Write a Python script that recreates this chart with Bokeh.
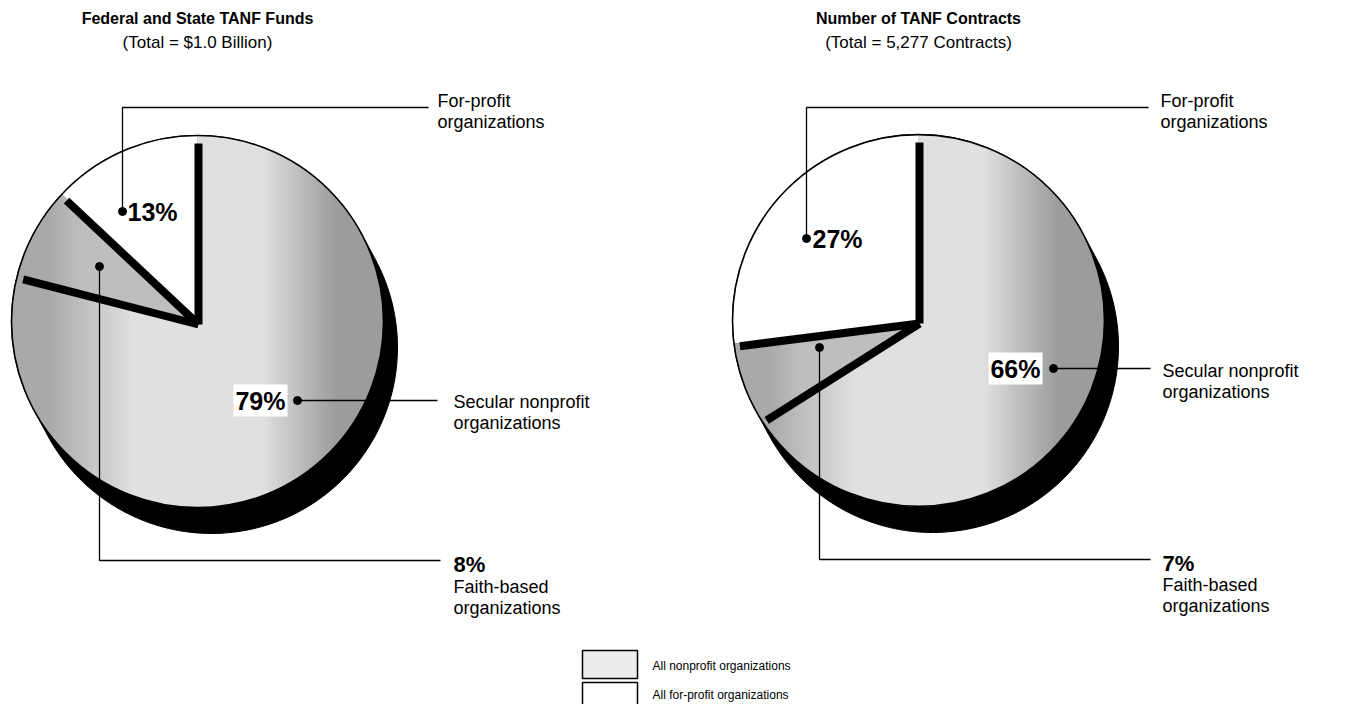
import numpy as np
from bokeh.plotting import figure
from bokeh.models import Range1d
from bokeh.core.properties import value
from bokeh.embed import file_html
from bokeh.resources import INLINE

# ---------------- data ----------------
slice_kind = ["secular", "faith", "forprofit"]   # secular nonprofit, faith-based, for-profit
funds_pct = [79, 8, 13]          # Federal and State TANF funds
contracts_pct = [66, 7, 27]      # Number of TANF contracts
chart_titles = ["Federal and State TANF Funds", "Number of TANF Contracts"]
chart_subtitles = ["(Total = $1.0 Billion)", "(Total = 5,277 Contracts)"]
legend_labels = ["All nonprofit organizations", "All for-profit organizations"]

# ---------------- layout ----------------
W, H = 1345, 704
FONT = value("Liberation Sans")
p = figure(width=W, height=H, x_range=Range1d(0, W), y_range=Range1d(-H, 0),
           x_axis_type=None, y_axis_type=None, toolbar_location=None,
           output_backend="svg", min_border=0, outline_line_color=None)
p.background_fill_color = "white"
p.border_fill_color = "white"

R = 186
SHADOW = (14, -26)
LIGHT = np.array([224, 224, 224])
DARK = np.array([156, 156, 156])


def clip_x(px, py, xlim, keep_greater):
    ox, oy = [], []
    n = len(px)
    for i in range(n):
        x0, y0 = px[i], py[i]
        x1, y1 = px[(i + 1) % n], py[(i + 1) % n]
        in0 = x0 >= xlim if keep_greater else x0 <= xlim
        in1 = x1 >= xlim if keep_greater else x1 <= xlim
        if in0:
            ox.append(x0); oy.append(y0)
        if in0 != in1:
            t = (xlim - x0) / (x1 - x0)
            ox.append(xlim); oy.append(y0 + t * (y1 - y0))
    return ox, oy


def shade(u, floor=0.0):
    if u >= 0:
        s = min(max((u - 0.35) / 0.4, 0), 1)
    else:
        s = 0.8 * min(max((-u - 0.35) / 0.45, 0), 1)
    s = max(s, floor)
    c = LIGHT + (DARK - LIGHT) * s
    return "#%02x%02x%02x" % tuple(int(v) for v in c)


def draw_pie(cx, cy, values):
    # cylinder-like shadow (hull of two discs)
    dx, dy = SHADOW
    psi = np.degrees(np.arctan2(dy, dx))
    t2 = np.radians(np.linspace(psi - 90, psi + 90, 120))
    t1 = np.radians(np.linspace(psi + 90, psi + 270, 120))
    sx = np.concatenate([cx + dx + R * np.cos(t2), cx + R * np.cos(t1)])
    sy = np.concatenate([cy + dy + R * np.sin(t2), cy + R * np.sin(t1)])
    p.patch(sx, sy, fill_color="black", line_color="black")

    cum = np.cumsum([0] + list(values))
    bounds = []
    xs_all, ys_all, cols = [], [], []
    for i, v in enumerate(values):
        a0 = 90 - 3.6 * cum[i]
        a1 = 90 - 3.6 * cum[i + 1]
        bounds.append(a1)
        t = np.radians(np.linspace(a0, a1, max(int(abs(a1 - a0)) + 2, 8)))
        px = [cx] + list(cx + R * np.cos(t))
        py = [cy] + list(cy + R * np.sin(t))
        if slice_kind[i] == "forprofit":
            xs_all.append(px); ys_all.append(py); cols.append("white")
        else:
            floor = 0.5 if slice_kind[i] == "faith" else 0.0
            step = 4
            for x0 in range(int(cx - R) - 2, int(cx + R) + 2, step):
                qx, qy = clip_x(px, py, x0, True)
                if len(qx) < 3:
                    continue
                qx, qy = clip_x(qx, qy, x0 + step + 0.8, False)
                if len(qx) < 3:
                    continue
                xs_all.append(qx); ys_all.append(qy)
                cols.append(shade((x0 + step / 2 - cx) / R, floor))
    p.patches(xs_all, ys_all, fill_color=cols, line_color=None)

    # rim outline
    p.circle([cx], [cy], radius=R, fill_color=None, line_color="black", line_width=1.6)

    # thick separating bands (extruded sides of the wedges)
    ox, oy = 1, -3
    bx, by = [], []
    for a in [90] + bounds[:-1]:
        ar = np.radians(a)
        bx.append([cx + ox, cx + ox + (R - 5) * np.cos(ar)])
        by.append([cy + oy, cy + oy + (R - 5) * np.sin(ar)])
    p.multi_line(bx, by, line_color="black", line_width=8, line_cap="butt", line_join="miter")


def txt(x, y, s, size, bold=False, align="left", bg=None):
    kw = {}
    if bg:
        kw = dict(background_fill_color=bg, padding=2)
    p.text([x], [-y], text=[s], text_font=FONT, text_font_size=value(f"{size}px"),
           text_font_style="bold" if bold else "normal", text_align=align,
           text_baseline="middle", text_color="black", **kw)


def leader(xs, ys):
    p.line(xs, [-v for v in ys], line_color="black", line_width=1.3)


LBL = 18
PCT = 25
centers = [(197, 321), (918, 320)]
for k, vals in enumerate([funds_pct, contracts_pct]):
    cx, cy = centers[k]
    draw_pie(cx, -cy, vals)
    txt(cx, 18, chart_titles[k], 16, bold=True, align="center")
    txt(cx, 42, chart_subtitles[k], 17, align="center")

# left pie labels
sec, fai, fpr = funds_pct
leader([122, 122, 428], [211, 107, 107])
leader([297, 437], [400, 400])
leader([99, 99, 440], [266, 560, 560])
p.scatter([122, 297, 99], [-211, -400, -266], size=8, color="black")
txt(127, 211, f"{fpr}%", PCT, bold=True)
txt(287, 400, f"{sec}%", PCT, bold=True, align="right", bg="white")
txt(437, 100, "For-profit", LBL)
txt(437, 121, "organizations", LBL)
txt(453, 401, "Secular nonprofit", LBL)
txt(453, 422, "organizations", LBL)
txt(453, 564, f"{fai}%", 22, bold=True)
txt(453, 586, "Faith-based", LBL)
txt(453, 607, "organizations", LBL)

# right pie labels
sec, fai, fpr = contracts_pct
leader([806, 806, 1148], [238, 107, 107])
leader([1053, 1150], [368, 368])
leader([819, 819, 1150], [347, 559, 559])
p.scatter([806, 1053, 819], [-238, -368, -347], size=8, color="black")
txt(812, 238, f"{fpr}%", PCT, bold=True)
txt(1042, 368, f"{sec}%", PCT, bold=True, align="right", bg="white")
txt(1160, 100, "For-profit", LBL)
txt(1160, 121, "organizations", LBL)
txt(1162, 370, "Secular nonprofit", LBL)
txt(1162, 391, "organizations", LBL)
txt(1162, 563, f"{fai}%", 22, bold=True)
txt(1162, 584, "Faith-based", LBL)
txt(1162, 605, "organizations", LBL)

# ---------------- legend ----------------
p.quad(left=[582, 582], right=[637, 637], top=[-650, -682], bottom=[-678, -712],
       fill_color=["#ececec", "white"], line_color="black", line_width=1.5)
txt(652, 665, legend_labels[0], 12)
txt(652, 694, legend_labels[1], 12)

open("out.html", "w").write(file_html(p, INLINE))
